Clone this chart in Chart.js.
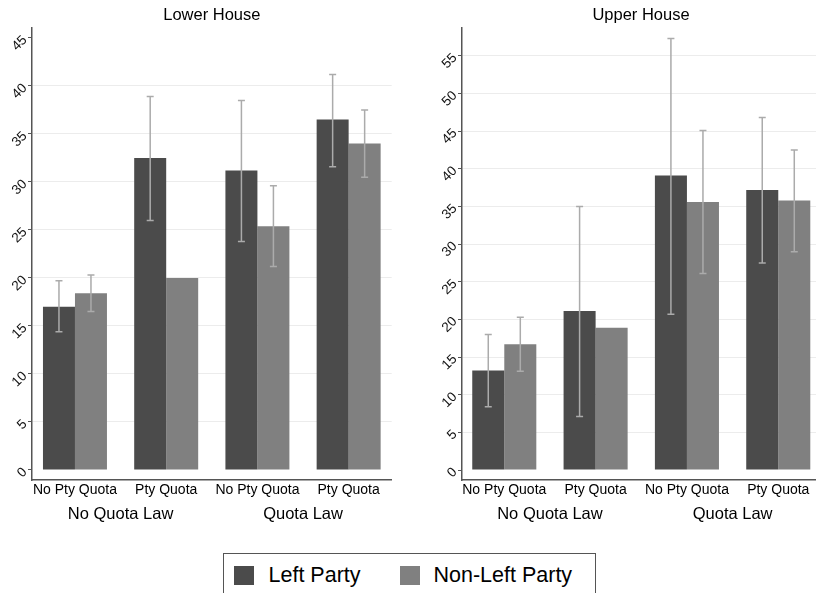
<!DOCTYPE html>
<html><head><meta charset="utf-8">
<script src="https://cdn.jsdelivr.net/npm/chart.js@4.4.1/dist/chart.umd.min.js"></script>
<style>
html,body{margin:0;padding:0;background:#fff;}
#wrap{position:relative;width:816px;height:593px;overflow:hidden;font-family:"Liberation Sans",Arial,sans-serif;}
#c1{position:absolute;left:0;top:0;}
#c2{position:absolute;left:430px;top:0;}
#legend{position:absolute;left:222.5px;top:552.5px;width:373px;height:60px;border:1px solid #555;box-sizing:border-box;}
.sw{position:absolute;top:12px;width:20px;height:19px;}
.lt{position:absolute;top:8px;font-size:21.5px;color:#000;line-height:26px;white-space:nowrap;}
</style></head><body>
<div id="wrap">
<canvas id="c1" width="400" height="530"></canvas>
<canvas id="c2" width="390" height="530"></canvas>
<div id="legend">
  <div class="sw" style="left:10px;background:#4b4b4b"></div><div class="lt" style="left:45px">Left Party</div>
  <div class="sw" style="left:176px;background:#808080"></div><div class="lt" style="left:210px">Non-Left Party</div>
</div>
</div>
<script>
// ---- data ----
const categories = ['No Pty Quota', 'Pty Quota', 'No Pty Quota', 'Pty Quota'];
const groups = ['No Quota Law', 'Quota Law'];
const seriesNames = ['Left Party', 'Non-Left Party'];

const lowerLeft      = [17.0, 32.5, 31.2, 36.5];
const lowerLeftLo    = [14.4, 26.0, 23.8, 31.6];
const lowerLeftHi    = [19.7, 38.9, 38.5, 41.2];
const lowerNonLeft   = [18.4, 20.0, 25.4, 34.0];
const lowerNonLeftLo = [16.5, null, 21.2, 30.5];
const lowerNonLeftHi = [20.3, null, 29.6, 37.5];

const upperLeft      = [13.2, 21.1, 39.1, 37.2];
const upperLeftLo    = [8.4, 7.1, 20.7, 27.5];
const upperLeftHi    = [18.0, 35.0, 57.3, 46.8];
const upperNonLeft   = [16.7, 18.9, 35.6, 35.8];
const upperNonLeftLo = [13.1, null, 26.1, 29.0];
const upperNonLeftHi = [20.3, null, 45.1, 42.5];

const lowerTicks = [0, 5, 10, 15, 20, 25, 30, 35, 40, 45];
const upperTicks = [0, 5, 10, 15, 20, 25, 30, 35, 40, 45, 50, 55];

// ---- drawing ----
Chart.defaults.font.family = '"Liberation Sans", Arial, sans-serif';

const errorBarPlugin = {
  id: 'errbars',
  afterDatasetsDraw(chart) {
    const ctx = chart.ctx, ys = chart.scales.y;
    chart.data.datasets.forEach((ds, i) => {
      const meta = chart.getDatasetMeta(i);
      meta.data.forEach((bar, j) => {
        const lo = ds.errLow[j], hi = ds.errHigh[j];
        if (lo == null || hi == null) return;
        const x = bar.x, yl = ys.getPixelForValue(lo), yh = ys.getPixelForValue(hi);
        ctx.save();
        ctx.strokeStyle = '#ababab';
        ctx.lineWidth = 1.5;
        ctx.beginPath();
        ctx.moveTo(x, yl); ctx.lineTo(x, yh);
        ctx.moveTo(x - 3.5, yl); ctx.lineTo(x + 3.5, yl);
        ctx.moveTo(x - 3.5, yh); ctx.lineTo(x + 3.5, yh);
        ctx.stroke();
        ctx.restore();
      });
    });
  }
};

function makeChart(id, title, left, leftLo, leftHi, nonLeft, nonLeftLo, nonLeftHi, ticks, yMin, yMax, xMin, xMax, hidden, padRight) {
  new Chart(document.getElementById(id), {
    type: 'bar',
    data: {
      datasets: [
        { label: seriesNames[0], data: left.map((v, i) => ({x: i, y: v})), errLow: leftLo, errHigh: leftHi,
          backgroundColor: '#4b4b4b', borderWidth: 0, categoryPercentage: 0.7015, barPercentage: 1 },
        { label: seriesNames[1], data: nonLeft.map((v, i) => ({x: i, y: v})), errLow: nonLeftLo, errHigh: nonLeftHi,
          backgroundColor: '#808080', borderWidth: 0, categoryPercentage: 0.7015, barPercentage: 1 }
      ]
    },
    options: {
      responsive: false, animation: false,
      layout: { padding: { left: 0, right: padRight, top: 0, bottom: 2 } },
      plugins: {
        legend: { display: false }, tooltip: { enabled: false },
        title: { display: true, text: title, fullSize: false, color: '#000',
                 font: { size: 16.5, weight: 'normal' }, padding: { top: 6, bottom: 2.2 } }
      },
      scales: {
        x: {
          type: 'linear', position: 'bottom', min: xMin, max: xMax, offset: false, weight: 0,
          afterBuildTicks: s => { s.ticks = categories.map((c, i) => ({value: i})); },
          afterFit: s => { s.height = 20; },
          ticks: { callback: (v, i) => categories[i], autoSkip: false, maxRotation: 0, minRotation: 0,
                   padding: 2, color: '#000', font: { size: 14 } },
          grid: { display: false, drawTicks: false, offset: false },
          border: { display: true, color: '#555', width: 1.5 }
        },
        x2: {
          type: 'linear', position: 'bottom', min: xMin, max: xMax, offset: false, weight: 1,
          afterBuildTicks: s => { s.ticks = [{value: 0.5}, {value: 2.5}]; },
          afterFit: s => { s.height = 28; },
          ticks: { callback: (v, i) => groups[i], autoSkip: false, maxRotation: 0, minRotation: 0,
                   padding: 5, color: '#000', font: { size: 16.5 } },
          grid: { display: false, drawTicks: false },
          border: { display: false }
        },
        y: {
          type: 'linear', min: yMin, max: yMax,
          afterBuildTicks: s => { s.ticks = ticks.map(v => ({value: v})); },
          afterFit: s => { s.width = 32; },
          ticks: { minRotation: 45, maxRotation: 45, padding: 3, color: '#111', font: { size: 13.5 }, autoSkip: false },
          grid: { color: c => (c.tick && hidden.includes(c.tick.value)) ? 'rgba(0,0,0,0)' : '#ececec',
                  lineWidth: 1, tickLength: 4, tickColor: '#555', tickWidth: 1 },
          border: { display: true, color: '#555', width: 1.5 }
        }
      }
    },
    plugins: [errorBarPlugin]
  });
}

makeChart('c1', 'Lower House', lowerLeft, lowerLeftLo, lowerLeftHi, lowerNonLeft, lowerNonLeftLo, lowerNonLeftHi,
          lowerTicks, -1.042, 46.04, -0.471, 3.472, [0, 45], 8.3);
makeChart('c2', 'Upper House', upperLeft, upperLeftLo, upperLeftHi, upperNonLeft, upperNonLeftLo, upperNonLeftHi,
          upperTicks, -1.328, 58.70, -0.463, 3.457, [0], 0);
</script>
</body></html>
